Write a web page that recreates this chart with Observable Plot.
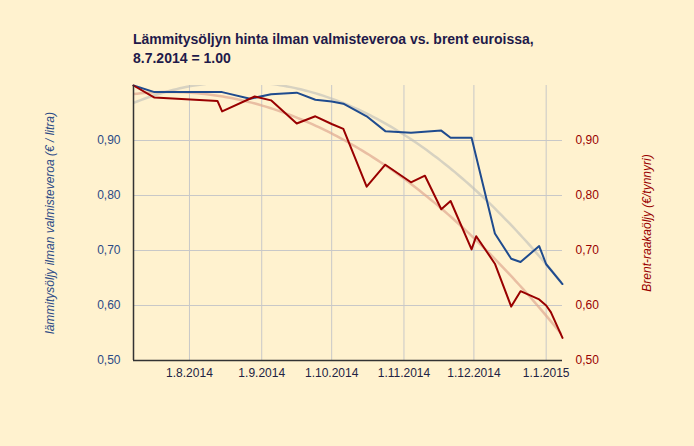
<!DOCTYPE html>
<html>
<head>
<meta charset="utf-8">
<script src="https://cdn.jsdelivr.net/npm/d3@7"></script>
<script src="https://cdn.jsdelivr.net/npm/@observablehq/plot@0.6"></script>
<style>
  html, body { margin: 0; padding: 0; background: #fff2cf; }
  #wrap { position: relative; width: 694px; height: 446px; overflow: hidden; font-family: "Liberation Sans", Arial, sans-serif; }
  #title { position: absolute; left: 133px; top: 30px; font-size: 14px; font-weight: bold; color: #1f1a4a; line-height: 19px; }
  #chart { position: absolute; left: 0; top: 0; }
</style>
</head>
<body>
<div id="wrap">
  <div id="chart"></div>
  <div id="title">Lämmitysöljyn hinta ilman valmisteveroa vs. brent euroissa,<br>8.7.2014 = 1.00</div>
</div>
<script>
// Heating oil (excluding excise tax), index 8.7.2014 = 1.00
const heatDates = ["2014-07-08","2014-07-17","2014-08-15","2014-08-27","2014-09-05","2014-09-16","2014-09-24","2014-10-01","2014-10-06","2014-10-16","2014-10-24","2014-11-04","2014-11-17","2014-11-21","2014-11-30","2014-12-10","2014-12-17","2014-12-21","2014-12-29","2015-01-01","2015-01-08"];
const heatValues = [1.000,0.988,0.988,0.976,0.984,0.987,0.974,0.971,0.967,0.944,0.917,0.914,0.918,0.905,0.905,0.731,0.685,0.679,0.708,0.675,0.639];

// Brent crude in euros, index 8.7.2014 = 1.00
const brentDates = ["2014-07-08","2014-07-17","2014-08-13","2014-08-15","2014-08-29","2014-09-05","2014-09-16","2014-09-24","2014-10-01","2014-10-06","2014-10-16","2014-10-24","2014-11-04","2014-11-10","2014-11-17","2014-11-21","2014-11-30","2014-12-02","2014-12-10","2014-12-17","2014-12-21","2014-12-29","2015-01-01","2015-01-03","2015-01-08"];
const brentValues = [1.000,0.978,0.972,0.953,0.980,0.973,0.931,0.944,0.930,0.921,0.816,0.856,0.824,0.836,0.775,0.790,0.702,0.726,0.676,0.598,0.626,0.611,0.600,0.588,0.541];

const xTicks = ["2014-08-01","2014-09-01","2014-10-01","2014-11-01","2014-12-01","2015-01-01"];
const yTicks = [0.5, 0.6, 0.7, 0.8, 0.9];
const leftLabel = "lämmitysöljy ilman valmisteveroa (€ / litra)";
const rightLabel = "Brent-raakaöljy (€/tynnyri)";

const parse = s => new Date(s + "T00:00:00Z");
const heat = heatDates.map((d, i) => ({date: parse(d), value: heatValues[i]}));
const brent = brentDates.map((d, i) => ({date: parse(d), value: brentValues[i]}));

// Quadratic least-squares trendline computed from the data
function quadTrend(data, n = 120) {
  const t0 = +data[0].date;
  const day = 864e5;
  const xs = data.map(d => (+d.date - t0) / day), ys = data.map(d => d.value);
  const S = k => d3.sum(xs, x => x ** k);
  const T = k => d3.sum(xs, (x, i) => x ** k * ys[i]);
  const A = [[S(0), S(1), S(2)], [S(1), S(2), S(3)], [S(2), S(3), S(4)]];
  const b = [T(0), T(1), T(2)];
  for (let i = 0; i < 3; i++) {
    for (let j = i + 1; j < 3; j++) {
      const f = A[j][i] / A[i][i];
      for (let k = i; k < 3; k++) A[j][k] -= f * A[i][k];
      b[j] -= f * b[i];
    }
  }
  const c = [0, 0, 0];
  for (let i = 2; i >= 0; i--) {
    let s = b[i];
    for (let k = i + 1; k < 3; k++) s -= A[i][k] * c[k];
    c[i] = s / A[i][i];
  }
  const xmax = d3.max(xs);
  return d3.range(n + 1).map(i => {
    const x = xmax * i / n;
    return {date: new Date(t0 + x * day), value: c[0] + c[1] * x + c[2] * x * x};
  });
}

const heatTrend = quadTrend(heat);
const brentTrend = quadTrend(brent);

const fmtY = d => d3.format(".2f")(d).replace(".", ",");
const fmtX = d => `${d.getUTCDate()}.${d.getUTCMonth() + 1}.${d.getUTCFullYear()}`;

const chart = Plot.plot({
  width: 694,
  height: 446,
  marginLeft: 133,
  marginRight: 132,
  marginTop: 85,
  marginBottom: 86,
  style: {background: "transparent", fontFamily: "Liberation Sans, Arial, sans-serif", fontSize: "12px"},
  x: {type: "utc", domain: [parse("2014-07-08"), parse("2015-01-08")]},
  y: {domain: [0.5, 1.0]},
  marks: [
    Plot.gridX(xTicks.map(parse), {stroke: "#c8c8c8", strokeOpacity: 1, strokeWidth: 1}),
    Plot.gridY(yTicks.slice(1), {stroke: "#c8c8c8", strokeOpacity: 1, strokeWidth: 1}),
    Plot.axisX(xTicks.map(parse), {tickSize: 0, tickPadding: 8, tickFormat: fmtX, fill: "#222244", label: null, fontSize: 12}),
    Plot.axisY(yTicks, {anchor: "left", tickSize: 0, tickPadding: 13, tickFormat: fmtY, fill: "#2b4a86", label: null, fontSize: 12}),
    Plot.axisY(yTicks, {anchor: "right", tickSize: 0, tickPadding: 13, tickFormat: fmtY, fill: "#990000", label: null, fontSize: 12}),
    Plot.line(heatTrend, {x: "date", y: "value", stroke: "#bdbdb8", strokeOpacity: 0.6, strokeWidth: 2.5, clip: "frame"}),
    Plot.line(brentTrend, {x: "date", y: "value", stroke: "#e0a890", strokeOpacity: 0.7, strokeWidth: 2.5, clip: "frame"}),
    Plot.line(heat, {x: "date", y: "value", stroke: "#1f4b8e", strokeWidth: 2}),
    Plot.line(brent, {x: "date", y: "value", stroke: "#990000", strokeWidth: 2}),
    Plot.ruleX([parse("2014-07-08")], {stroke: "#333333", strokeWidth: 1.5}),
    Plot.ruleY([0.5], {stroke: "#333333", strokeWidth: 1.5}),
    Plot.text([leftLabel], {frameAnchor: "left", dx: -83, rotate: -90, textAnchor: "middle", fill: "#2b4a86", fontStyle: "italic", fontSize: 12}),
    Plot.text([rightLabel], {frameAnchor: "right", dx: 85, rotate: -90, textAnchor: "middle", fill: "#990000", fontStyle: "italic", fontSize: 12})
  ]
});
document.getElementById("chart").appendChild(chart);
</script>
</body>
</html>
